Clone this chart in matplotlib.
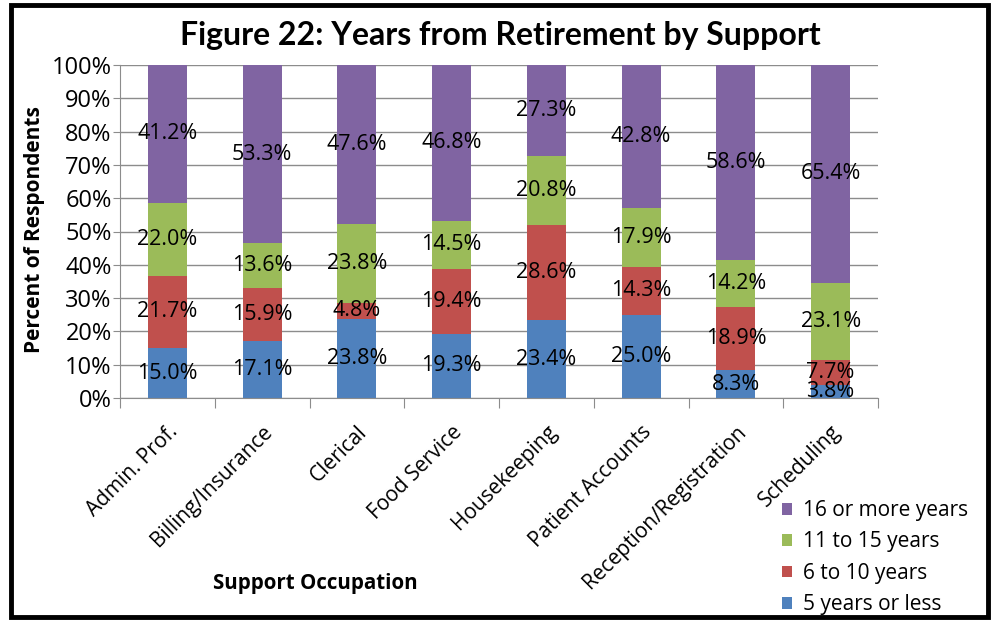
#!/usr/bin/env python3
import matplotlib
matplotlib.use('Agg')
import matplotlib.pyplot as plt
from matplotlib.patches import Rectangle
import numpy as np

occupations = ['Admin. Prof.', 'Billing/Insurance', 'Clerical', 'Food Service',
               'Housekeeping', 'Patient Accounts', 'Reception/Registration',
               'Scheduling']
series_names = ['5 years or less', '6 to 10 years', '11 to 15 years',
                '16 or more years']
five_or_less = [15.0, 17.1, 23.8, 19.3, 23.4, 25.0, 8.3, 3.8]
six_to_ten = [21.7, 15.9, 4.8, 19.4, 28.6, 14.3, 18.9, 7.7]
eleven_to_fifteen = [22.0, 13.6, 23.8, 14.5, 20.8, 17.9, 14.2, 23.1]
sixteen_plus = [41.2, 53.3, 47.6, 46.8, 27.3, 42.8, 58.6, 65.4]
colors = ['#4F81BD', '#C0504D', '#9BBB59', '#8064A2']

FONT = ['Open Sans', 'DejaVu Sans']
TITLE_FONT = ['Lato', 'DejaVu Sans']


def main():
    plt.rcParams['font.family'] = FONT
    W, H = 993, 621
    fig = plt.figure(figsize=(W / 100, H / 100), dpi=100)
    ax = fig.add_axes([120 / W, 1 - 398 / H, (878 - 120) / W, (398 - 65) / H])

    x = np.arange(len(occupations))
    bottom = np.zeros(len(occupations))
    handles = []
    for vals, name, col in zip([five_or_less, six_to_ten, eleven_to_fifteen, sixteen_plus],
                               series_names, colors):
        vals = np.array(vals)
        bars = ax.bar(x, vals / 100, width=0.41, bottom=bottom / 100, color=col,
                      label=name, zorder=2)
        handles.append(bars)
        for xi, b, v in zip(x, bottom, vals):
            ax.text(xi, (b + v / 2) / 100, '%.1f%%' % v, ha='center', va='center',
                    fontsize=15.5, color='black', zorder=3)
        bottom = bottom + vals

    ax.set_xlim(-0.5, len(occupations) - 0.5)
    ax.set_ylim(0, 1)
    ax.set_yticks(np.arange(0, 1.01, 0.1))
    ax.set_yticklabels(['%d%%' % v for v in range(0, 101, 10)], fontsize=17)
    ax.yaxis.grid(True, color='#8c8c8c', linewidth=1.0, zorder=0)
    ax.set_axisbelow(True)
    ax.tick_params(axis='y', length=5, color='#8c8c8c', pad=1)

    # category ticks sit at the boundaries, labels at the centres
    ax.set_xticks(np.arange(-0.5, len(occupations)))
    ax.set_xticklabels([])
    ax.tick_params(axis='x', length=7, color='#8c8c8c', direction='out')
    for xi, lab in zip(x, occupations):
        ax.text(xi, -0.07, lab, rotation=45, ha='right', va='top',
                rotation_mode='anchor', fontsize=15)

    for s in ['top', 'right']:
        ax.spines[s].set_visible(False)
    for s in ['left', 'bottom']:
        ax.spines[s].set_color('#8c8c8c')

    fig.text(500 / W, 1 - 35 / H, 'Figure 22: Years from Retirement by Support',
             ha='center', va='center', fontsize=23, fontweight='bold',
             family=TITLE_FONT)
    fig.text(35 / W, 1 - 230 / H, 'Percent of Respondents', rotation=90,
             ha='center', va='center', fontsize=15, fontweight='bold')
    fig.text(315 / W, 1 - 583 / H, 'Support Occupation', ha='center',
             va='center', fontsize=14.8, fontweight='bold')

    fig.legend(handles[::-1], series_names[::-1], loc='upper left',
               bbox_to_anchor=(782 / W, 1 - 500 / H), frameon=False, fontsize=15,
               borderpad=0, borderaxespad=0,
               handlelength=0.5, handleheight=0.5, handletextpad=0.5,
               labelspacing=0.5)

    fig.patches.append(Rectangle((11 / W, 4 / H), 977 / W, 612 / H,
                                 transform=fig.transFigure, fill=False,
                                 edgecolor='black', linewidth=3.5))
    plt.savefig('out.png', dpi=100)


if __name__ == '__main__':
    main()
